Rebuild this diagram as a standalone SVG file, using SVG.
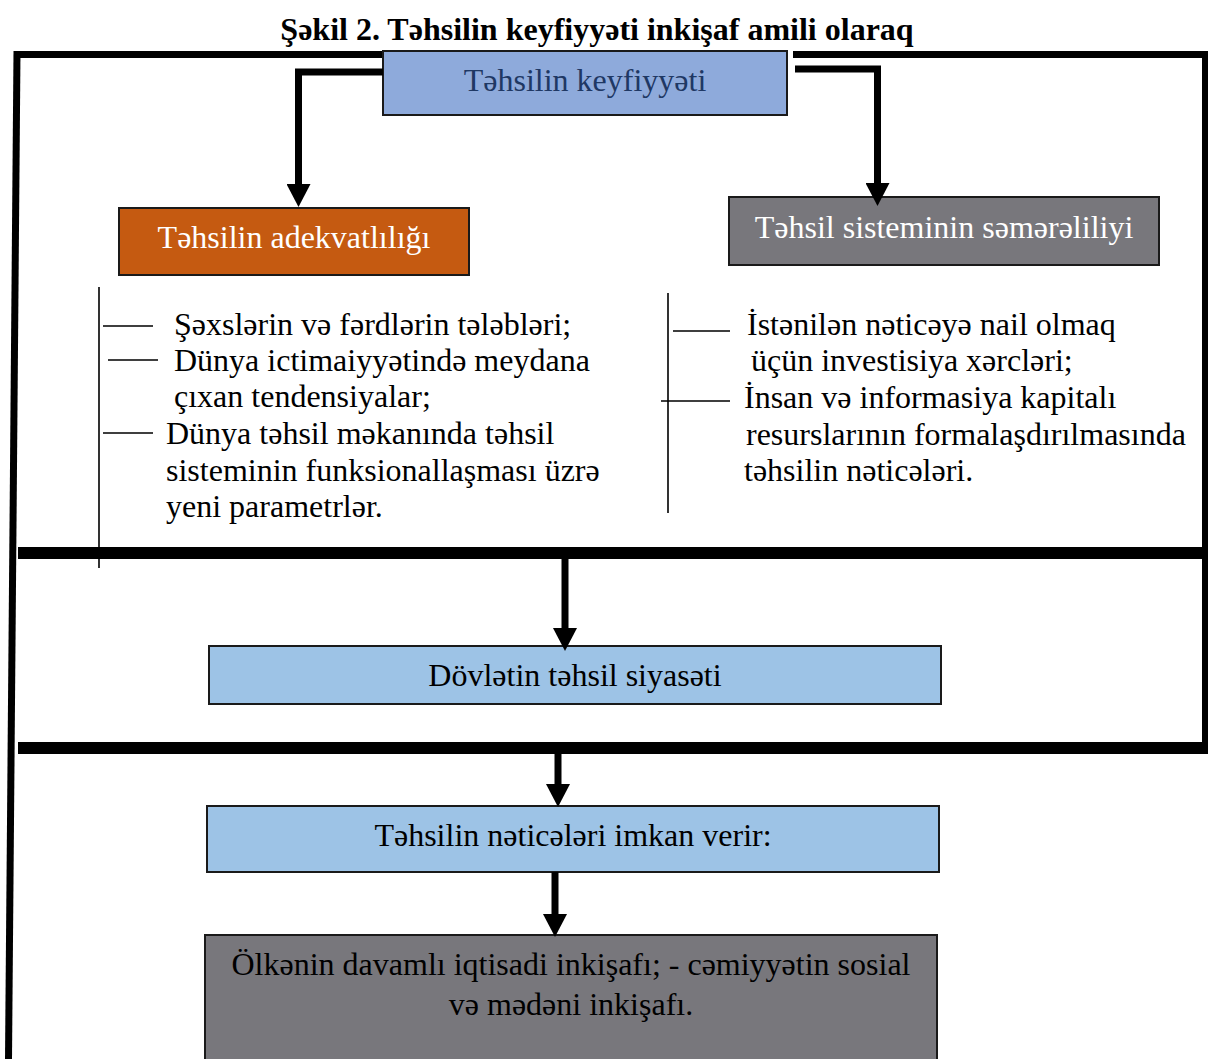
<svg xmlns="http://www.w3.org/2000/svg" width="1208" height="1059" viewBox="0 0 1208 1059" font-family="'Liberation Serif', 'Times New Roman', serif">
<style>
text{font-family:"Liberation Serif","Times New Roman",serif;font-size:32px;fill:#000}
.title{font-weight:bold;font-size:32px}
.box{stroke:#1a1a1a;stroke-width:2}
.frame{stroke:#000;fill:none;stroke-linecap:butt}
.thin{stroke:#000;stroke-width:1.6;fill:none}
.conn{stroke:#000;stroke-width:7;fill:none;stroke-linejoin:miter}
.w{fill:#fff}
.c{text-anchor:middle}
</style>
<defs>
<marker id="ah" viewBox="0 -12 23 24" refX="0" refY="0" markerWidth="23" markerHeight="24" markerUnits="userSpaceOnUse" orient="auto">
<path d="M0,-12 L23,0 L0,12 z" fill="#000"/>
</marker>
</defs>
<rect width="1208" height="1059" fill="#fff"/>
<text class="title c" x="597" y="40">Şəkil 2. Təhsilin keyfiyyəti inkişaf amili olaraq</text>
<g id="frame">
<path class="frame" stroke-width="7" d="M14,54.5 L383,54.5 M793,54.5 L1208,54.5"/>
<path class="frame" stroke-width="7" d="M17,51 L8.5,1059"/>
<path class="frame" stroke-width="6" d="M1205,51 L1205,745"/>
<path class="frame" stroke-width="12" d="M18,553 L1208,553 M18,748 L1208,748"/>
</g>
<g id="node-keyfiyyet">
<rect class="box" x="383" y="51" width="404" height="64" fill="#8EAADB"/>
<text class="c" x="585" y="91" style="fill:#1F3864">Təhsilin keyfiyyəti</text>
</g>
<g id="node-adekvat">
<rect class="box" x="119" y="208" width="350" height="67" fill="#C55A11"/>
<text class="c w" x="294" y="248">Təhsilin adekvatlılığı</text>
</g>
<g id="node-semereli">
<rect class="box" x="729" y="197" width="430" height="68" fill="#78777C"/>
<text class="c w" x="944" y="238">Təhsil sisteminin səmərəliliyi</text>
</g>
<g id="list-left">
<path class="thin" d="M99,287 L99,568 M103,326 L153,326 M108,360 L158,360 M103,433 L153,433"/>
<text x="174" y="335">Şəxslərin və fərdlərin tələbləri;</text>
<text x="174" y="371">Dünya ictimaiyyətində meydana</text>
<text x="174" y="407">çıxan tendensiyalar;</text>
<text x="166" y="444">Dünya təhsil məkanında təhsil</text>
<text x="166" y="481">sisteminin funksionallaşması üzrə</text>
<text x="166" y="517">yeni parametrlər.</text>
</g>
<g id="list-right">
<path class="thin" d="M668,293 L668,513 M673,331 L730,331 M661,401 L730,401"/>
<text x="747" y="335">İstənilən nəticəyə nail olmaq</text>
<text x="751" y="371">üçün investisiya xərcləri;</text>
<text x="744" y="408">İnsan və informasiya kapitalı</text>
<text x="746" y="445">resurslarının formalaşdırılmasında</text>
<text x="744" y="481">təhsilin nəticələri.</text>
</g>
<g id="node-dovlet">
<rect class="box" x="209" y="646" width="732" height="58" fill="#9DC3E6"/>
<text class="c" x="575" y="686">Dövlətin təhsil siyasəti</text>
</g>
<g id="node-neticeler">
<rect class="box" x="207" y="806" width="732" height="66" fill="#9DC3E6"/>
<text class="c" x="573" y="846">Təhsilin nəticələri imkan verir:</text>
</g>
<g id="node-inkisaf">
<rect class="box" x="205" y="935" width="732" height="130" fill="#78777C"/>
<text class="c" x="571" y="975">Ölkənin davamlı iqtisadi inkişafı; - cəmiyyətin sosial</text>
<text class="c" x="571" y="1015">və mədəni inkişafı.</text>
</g>
<g id="connectors">
<path class="conn" d="M383,72 L298.5,72 L298.5,184" marker-end="url(#ah)"/>
<path class="conn" d="M795,69 L877.5,69 L877.5,183" marker-end="url(#ah)"/>
<path class="conn" d="M565,553 L565,628" marker-end="url(#ah)"/>
<path class="conn" d="M558,752 L558,784" marker-end="url(#ah)"/>
<path class="conn" d="M555,872 L555,914" marker-end="url(#ah)"/>
</g>
</svg>
